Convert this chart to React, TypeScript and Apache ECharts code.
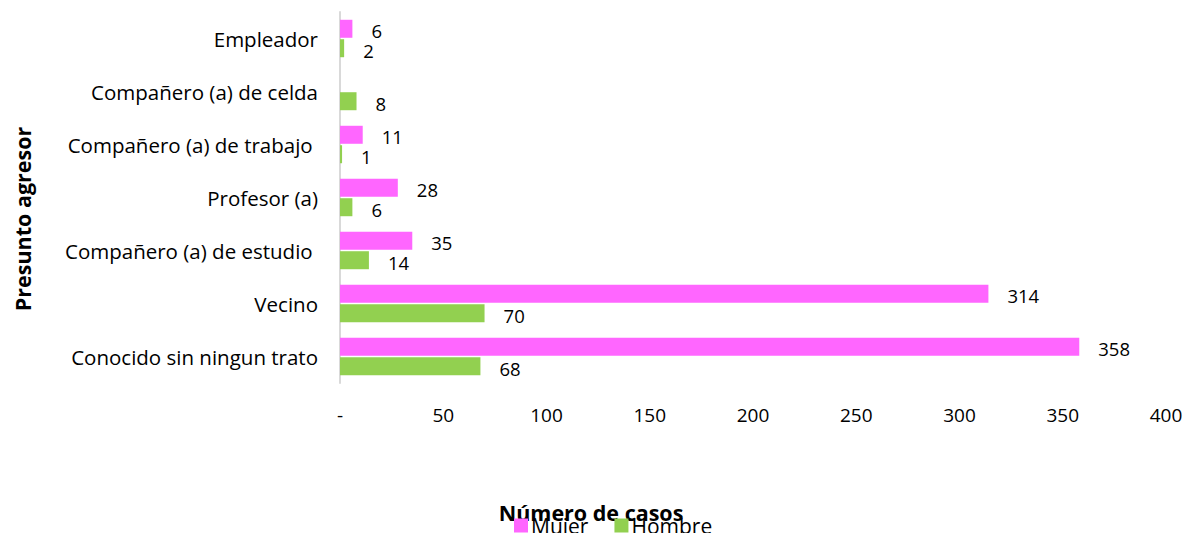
import React, { useEffect, useRef } from "react";
import * as echarts from "echarts";

const categories = [
  "Conocido sin ningun trato",
  "Vecino",
  "Compañero (a) de estudio ",
  "Profesor (a)",
  "Compañero (a) de trabajo ",
  "Compañero (a) de celda",
  "Empleador",
];
const mujer = [358, 314, 35, 28, 11, 0, 6];
const hombre = [68, 70, 14, 6, 1, 8, 2];
const xTicks = { min: 0, max: 400, interval: 50 };
const xTitle = "Número de casos";
const yTitle = "Presunto agresor";

const FONT = "Open Sans";

export default function App() {
  const ref = useRef<HTMLDivElement>(null);
  useEffect(() => {
    const chart = echarts.init(ref.current!, null, { renderer: "svg" });
    const labelCfg = {
      show: true,
      position: "right",
      distance: 19,
      offset: [0, 2],
      color: "#000",
      fontFamily: FONT,
      fontSize: 18.5,
      formatter: (p: any) => (p.value === 0 ? "" : String(p.value)),
    };
    chart.setOption({
      animation: false,
      textStyle: { fontFamily: FONT },
      grid: { left: 340, right: 24, top: 12, bottom: 150, containLabel: false },
      legend: {
        data: ["Mujer", "Hombre"],
        left: 509,
        top: 510,
        itemWidth: 14,
        itemHeight: 14,
        itemGap: 26,
        icon: "rect",
        textStyle: { fontFamily: FONT, fontSize: 21, color: "#000", padding: [0, 0, 0, -2] },
      },
      graphic: [
        {
          type: "text",
          x: 591,
          y: 512,
          style: {
            text: xTitle,
            fontFamily: FONT,
            fontSize: 21.5,
            fontWeight: "bold",
            fill: "#000",
            align: "center",
            verticalAlign: "middle",
          },
        },
        {
          type: "text",
          x: 22,
          y: 219,
          rotation: Math.PI / 2,
          style: {
            text: yTitle,
            fontFamily: FONT,
            fontSize: 21.5,
            fontWeight: "bold",
            fill: "#000",
            align: "center",
            verticalAlign: "middle",
          },
        },
      ],
      xAxis: {
        type: "value",
        min: xTicks.min,
        max: xTicks.max,
        interval: xTicks.interval,
        axisLine: { show: false },
        axisTick: { show: false },
        splitLine: { show: false },
        axisLabel: {
          color: "#000",
          fontFamily: FONT,
          fontSize: 19,
          margin: 22,
          formatter: (v: number) => (v === 0 ? "-" : String(v)),
        },
      },
      yAxis: {
        type: "category",
        data: categories,
        axisLine: { show: true, lineStyle: { color: "#D9D9D9", width: 2 } },
        axisTick: { show: false },
        axisLabel: { color: "#000", fontFamily: FONT, fontSize: 20.5, margin: 22 },
      },
      series: [
        {
          name: "Mujer",
          type: "bar",
          data: mujer,
          barWidth: 18,
          barGap: "8%",
          itemStyle: { color: "#FF66FF" },
          label: labelCfg,
        },
        {
          name: "Hombre",
          type: "bar",
          data: hombre,
          barWidth: 18,
          barGap: "8%",
          itemStyle: { color: "#92D050" },
          label: labelCfg,
        },
      ],
    });
    return () => chart.dispose();
  }, []);
  return <div ref={ref} style={{ width: 1190, height: 533, position: "absolute", left: 0, top: 0 }} />;
}
